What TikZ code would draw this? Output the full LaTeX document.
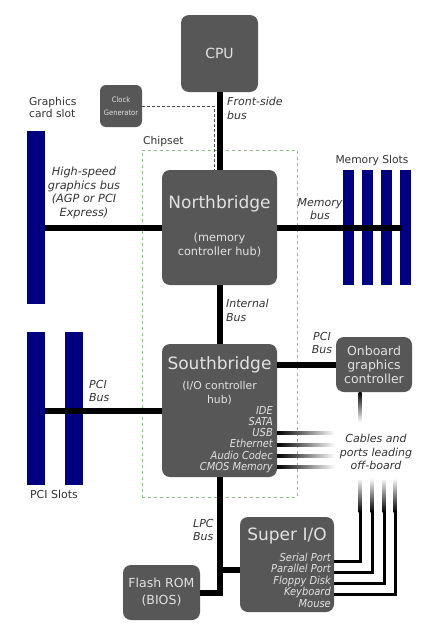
\documentclass[tikz,border=0pt]{standalone}
\usepackage{fontspec}
\setmainfont{DejaVu Sans}
\newfontfamily\condfont{DejaVu Sans Condensed}
\definecolor{boxgray}{HTML}{575757}
\definecolor{boxtext}{HTML}{E2E2E2}
\definecolor{labtext}{HTML}{333333}
\definecolor{slotblue}{HTML}{000080}
\definecolor{chipgreen}{HTML}{8FBC8F}
\begin{document}
\begin{tikzpicture}[x=1pt,y=-1pt,
  chip/.style={fill=boxgray, rounded corners=8pt, inner sep=0pt},
  slot/.style={fill=slotblue, inner sep=0pt},
  bus/.style={line width=6pt, black},
  cable/.style={line width=3pt, black},
  boxlabel/.style={text=boxtext, align=center, inner sep=0pt},
  italab/.style={text=labtext, font=\fontsize{11}{13.8}\selectfont\itshape, inner sep=0pt},
  plainlab/.style={text=labtext, font=\fontsize{10.7}{12.5}\selectfont, inner sep=0pt},
  sblistlab/.style={text=boxtext, font=\condfont\fontsize{11}{11.2}\selectfont\itshape, align=right, inner sep=0pt},
  siolistlab/.style={text=boxtext, font=\condfont\fontsize{11}{11.5}\selectfont\itshape, align=right, inner sep=0pt},
  clockline/.style={densely dashed, line width=1pt, black!70}
]
\useasboundingbox (0,0) rectangle (440,624);

% chipset frame
\node[draw=chipgreen, dashed, line width=0.8pt, minimum width=155pt, minimum height=347pt, inner sep=0pt] (chipset) at (219.5,323.5) {};
\node[plainlab, anchor=south west] (chipsetlab) at (143,147) {Chipset};

% boxes
\node[chip, minimum width=77pt, minimum height=77pt] (cpu) at (219.5,53.5) {};
\node[chip, rounded corners=6pt, minimum width=42pt, minimum height=42pt] (clk) at (121,106) {};
\node[chip, minimum width=115pt, minimum height=115pt] (nb) at (219.5,227.5) {};
\node[chip, minimum width=115pt, minimum height=133pt] (sb) at (219.5,410.5) {};
\node[chip, minimum width=76pt, minimum height=55pt] (ogc) at (374,364.5) {};
\node[chip, minimum width=94pt, minimum height=95pt] (sio) at (287,564.5) {};
\node[chip, minimum width=77pt, minimum height=55pt] (flash) at (161.5,592.5) {};

% slots
\node[slot, minimum width=18pt, minimum height=173pt] (gslot) at (36,217.5) {};
\node[slot, minimum width=18pt, minimum height=153pt] (pci1) at (36,408.5) {};
\node[slot, minimum width=18pt, minimum height=153pt] (pci2) at (74,408.5) {};
\node[slot, minimum width=11pt, minimum height=115pt] (mem1) at (348.5,227.5) {};
\node[slot, minimum width=11pt, minimum height=115pt] (mem2) at (367.5,227.5) {};
\node[slot, minimum width=11pt, minimum height=115pt] (mem3) at (386.5,227.5) {};
\node[slot, minimum width=11pt, minimum height=115pt] (mem4) at (405.5,227.5) {};

% buses
\draw[bus] (cpu.south) -- (nb.north);
\coordinate (ckc) at (214,106);
\draw[clockline] (clk.east) -- (ckc) -- (ckc |- nb.north);
\draw[bus] (gslot.east |- nb.west) -- (nb.west);
\coordinate (memend) at (402,227.5);
\draw[bus] (nb.east) -- (memend);
\draw[bus] (nb.south) -- (sb.north);
\draw[bus] (pci1.east |- sb.west) -- (sb.west);
\draw[bus] (ogc.west -| sb.east) -- (ogc.west);
\coordinate (lpcb) at (219,570);
\draw[bus] (sb.south) |- (flash.east);
\draw[bus] (lpcb) -- (lpcb -| sio.west);

% cables from southbridge (fading to the right)
\foreach \yy in {433,445,456,467}{
  \shade[left color=black, right color=white] (277,\yy-1.5) rectangle (335,\yy+1.5);
}
% onboard graphics down cable
\shade[top color=black, bottom color=white] (358.5,392) rectangle (361.5,422);
% super I/O cables
\foreach \xx/\yy in {360/561,372/572,384/583,395/594}{
  \shade[top color=white, bottom color=black] (\xx-1.5,478) rectangle (\xx+1.5,512);
  \draw[cable] (\xx,511) |- (sio.east |- 0,\yy);
}

% texts in boxes
\node[boxlabel, font=\fontsize{14}{16}\selectfont] (cputxt) at (cpu.center) {CPU};
\node[boxlabel, font=\condfont\fontsize{7.5}{12.5}\selectfont] (clktxt) at (clk.center) {Clock\\Generator};
\node[boxlabel, font=\fontsize{17}{19}\selectfont] (nbtxt) at (219.5,204) {Northbridge};
\node[boxlabel, font=\fontsize{11.3}{14}\selectfont] (nbsub) at (219.5,244.5) {(memory\\controller hub)};
\node[boxlabel, font=\fontsize{17}{19}\selectfont] (sbtxt) at (219.5,365) {Southbridge};
\node[boxlabel, font=\fontsize{10.8}{14}\selectfont] (sbsub) at (219.5,393) {(I/O controller\\hub)};
\node[sblistlab, anchor=north east] (sblist) at (273,406) {IDE\\SATA\\USB\\Ethernet\\Audio Codec\\CMOS Memory};
\node[boxlabel, font=\fontsize{12.5}{14}\selectfont] (ogctxt) at (ogc.center) {Onboard\\graphics\\controller};
\node[boxlabel, font=\fontsize{17}{19}\selectfont] (siotxt) at (287,536) {Super I/O};
\node[siolistlab, anchor=north east] (siolist) at (331,552.5) {Serial Port\\Parallel Port\\Floppy Disk\\Keyboard\\Mouse};
\node[boxlabel, font=\fontsize{12.5}{17}\selectfont] (flashtxt) at (flash.center) {Flash ROM\\(BIOS)};

% outside labels
\node[italab, align=left, anchor=north west] (fsblab) at (227,97) {Front-side\\bus};
\node[plainlab, align=left, anchor=north west] (gslab) at (29,97) {Graphics\\card slot};
\node[plainlab, anchor=center] (memlab) at (372,161) {Memory Slots};
\node[italab, align=center, font=\fontsize{11.3}{13.5}\selectfont\itshape] (hsglab) at (84,193) {High-speed\\graphics bus\\(AGP or PCI\\Express)};
\node[italab, align=center] (memblab) at (320,209) {Memory\\bus};
\node[italab, align=left, anchor=west] (intlab) at (226,310) {Internal\\Bus};
\node[italab, align=left, anchor=west] (pcilab) at (89,391) {PCI\\Bus};
\node[italab, align=center] (pci2lab) at (322,343) {PCI\\Bus};
\node[italab, align=center] (cablab) at (376,452) {Cables and\\ports leading\\off-board};
\node[italab, align=left, anchor=west] (lpclab) at (193,530) {LPC\\Bus};
\node[plainlab, font=\fontsize{11}{13}\selectfont] (pcislab) at (54,494) {PCI Slots};
\end{tikzpicture}
\end{document}
